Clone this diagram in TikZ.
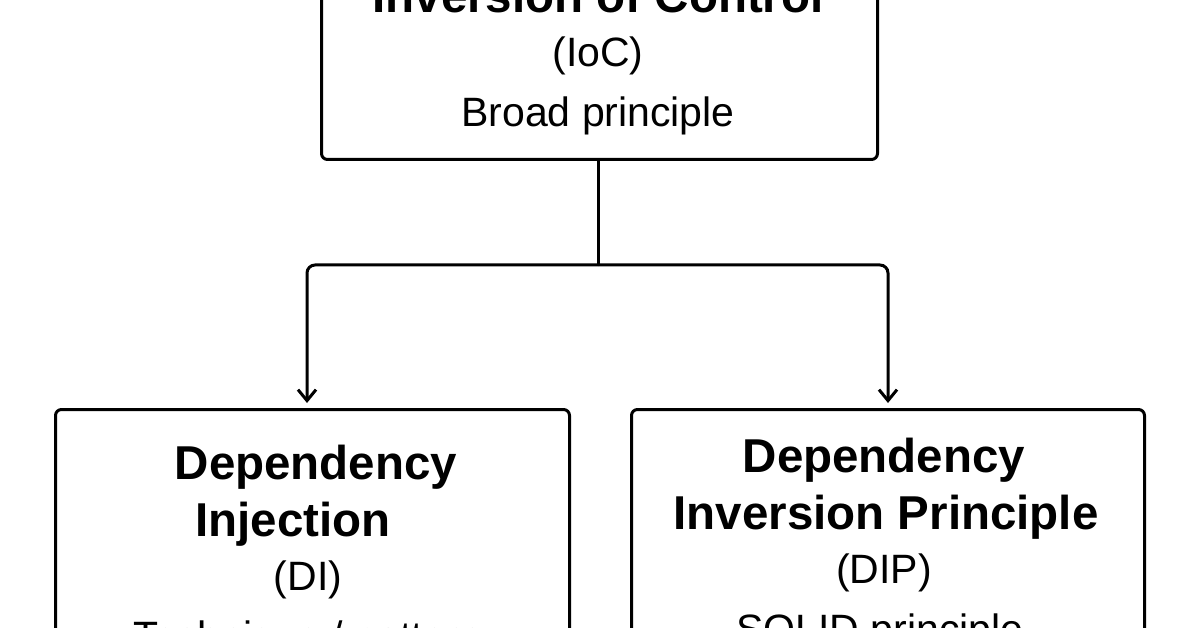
\documentclass[tikz,border=0pt]{standalone}
\usepackage{fontspec}
\setmainfont{Liberation Sans}
\usetikzlibrary{arrows.meta}
\begin{document}
\begin{tikzpicture}[x=1pt,y=-1pt,
  box/.style={draw,line width=3pt,rounded corners=6pt,inner sep=0pt,anchor=north west},
  ttl/.style={font=\fontsize{47.5}{52}\selectfont\bfseries},
  txt/.style={font=\fontsize{41}{46}\selectfont},
  con/.style={line width=3pt,rounded corners=8pt},
  arr/.style={con,-{Straight Barb[length=11pt,width=18pt,line width=3pt]}}]
\clip (0,0) rectangle (1196,628);
\fill[white] (0,0) rectangle (1196,628);
\node[box,minimum width=556pt,minimum height=258pt] (top) at (320,-100) {};
\node[ttl] (t1) at (598,-4) {Inversion of Control};
\node[txt] (t2) at (598,56) {(IoC)};
\node[txt] (t3) at (598,116) {Broad principle};
\node[box,minimum width=514pt,minimum height=300pt] (di) at (54,408) {};
\node[box,minimum width=513pt,minimum height=300pt] (dip) at (630,408) {};
\node[ttl] (a1) at (316,467) {Dependency};
\node[ttl] (a2) at (293,524) {Injection};
\node[txt] (a3) at (308,580) {(DI)};
\node[txt] (a4) at (308,640) {Technique / pattern};
\node[ttl] (b1) at (884,460) {Dependency};
\node[ttl] (b2) at (886,517) {Inversion Principle};
\node[txt] (b3) at (884,573) {(DIP)};
\node[txt] (b4) at (880,633) {SOLID principle};
\coordinate (j) at (598,265);
\coordinate (dl) at (307,403);
\coordinate (dr) at (888,403);
\draw[con] (top.south -| j) -- (j);
\draw[arr] (j) -- (307,265) -- (dl);
\draw[arr] (j) -- (888,265) -- (dr);
\end{tikzpicture}
\end{document}
